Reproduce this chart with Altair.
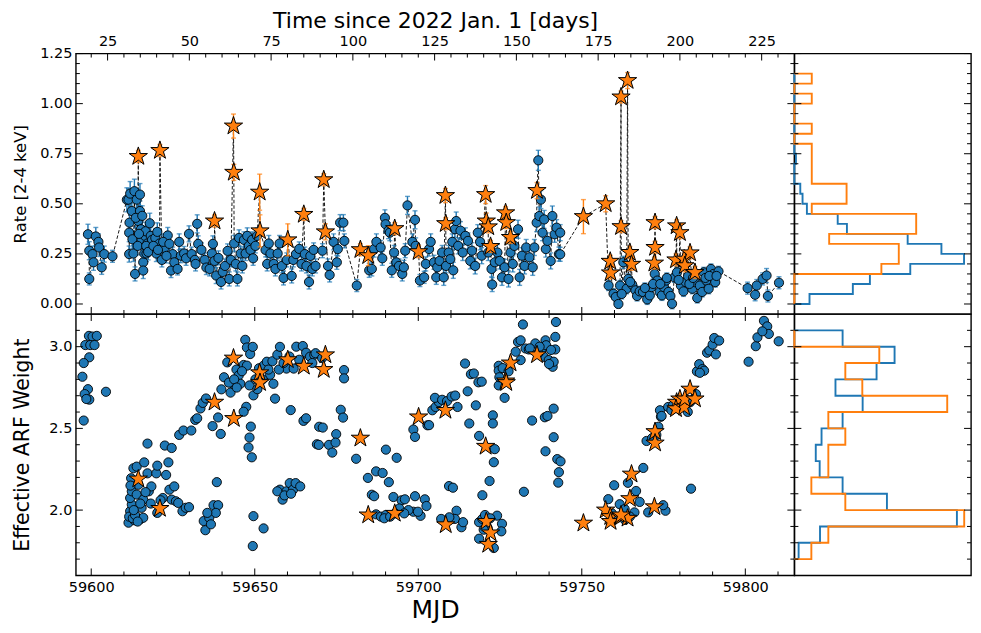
import altair as alt
import pandas as pd

BLUE = "#1f77b4"
ORANGE = "#ff7f0e"
FONT = "DejaVu Sans"
MJD_2022_JAN1 = 59580
STAR_PATH = ("M0,-1L0.225,-0.309L0.951,-0.309L0.363,0.118L0.588,0.809L0,0.382"
             "L-0.588,0.809L-0.363,0.118L-0.951,-0.309L-0.225,-0.309Z")

# ---------------- Top panel: blue observations [mjd, rate, err] ----------------
rate_seg_a = [
    [59599.0, 0.348, 0.050], [59599.4, 0.266, 0.045], [59599.4, 0.125, 0.030], [59600.4, 0.249, 0.040],
    [59600.7, 0.208, 0.040], [59601.4, 0.337, 0.045], [59602.2, 0.310, 0.040], [59602.4, 0.282, 0.045],
    [59603.2, 0.183, 0.035], [59604.0, 0.249, 0.040], [59606.5, 0.238, 0.030],
]
rate_seg_b = [
    [59610.9, 0.520, 0.060], [59611.4, 0.521, 0.055], [59611.9, 0.551, 0.060], [59612.4, 0.464, 0.050],
    [59611.7, 0.406, 0.050], [59611.6, 0.356, 0.045], [59611.6, 0.249, 0.040], [59612.6, 0.323, 0.045],
    [59612.9, 0.252, 0.040], [59613.4, 0.150, 0.035], [59613.2, 0.563, 0.060], [59613.9, 0.521, 0.055],
    [59614.4, 0.414, 0.050], [59614.9, 0.546, 0.055], [59614.9, 0.464, 0.050], [59615.2, 0.373, 0.045],
    [59615.4, 0.320, 0.045], [59615.9, 0.208, 0.040], [59615.9, 0.167, 0.040], [59616.2, 0.252, 0.040],
    [59616.4, 0.340, 0.045], [59616.6, 0.363, 0.045], [59616.9, 0.252, 0.040], [59617.2, 0.302, 0.045],
    [59617.9, 0.403, 0.050], [59618.2, 0.340, 0.045], [59618.6, 0.320, 0.040], [59619.6, 0.330, 0.045],
    [59619.9, 0.252, 0.040], [59620.9, 0.302, 0.040], [59621.6, 0.220, 0.035], [59622.4, 0.280, 0.040],
    [59623.4, 0.342, 0.040], [59624.4, 0.167, 0.035], [59624.9, 0.249, 0.035], [59625.4, 0.208, 0.035],
    [59626.4, 0.175, 0.030], [59626.9, 0.310, 0.040], [59627.4, 0.241, 0.035], [59628.4, 0.252, 0.035],
    [59629.0, 0.228, 0.035], [59629.9, 0.350, 0.040], [59613.6, 0.430, 0.050], [59614.2, 0.290, 0.045],
    [59614.6, 0.350, 0.045], [59615.6, 0.440, 0.050], [59616.8, 0.290, 0.040], [59617.4, 0.260, 0.040],
    [59619.0, 0.290, 0.040], [59620.2, 0.360, 0.045], [59620.4, 0.270, 0.040], [59622.0, 0.310, 0.040],
    [59623.0, 0.240, 0.035], [59623.9, 0.300, 0.040],
]
rate_seg_c = [
    [59630.7, 0.249, 0.035], [59631.7, 0.220, 0.035], [59631.9, 0.200, 0.035], [59632.4, 0.400, 0.045],
    [59632.7, 0.300, 0.040], [59633.7, 0.270, 0.035], [59634.7, 0.220, 0.035], [59635.2, 0.182, 0.035],
    [59636.2, 0.175, 0.035], [59636.9, 0.252, 0.035], [59637.2, 0.300, 0.040], [59637.7, 0.215, 0.035],
    [59638.2, 0.142, 0.040], [59638.9, 0.230, 0.035], [59639.7, 0.110, 0.035], [59640.2, 0.160, 0.035],
    [59640.9, 0.190, 0.035], [59641.7, 0.265, 0.035], [59642.2, 0.125, 0.035], [59642.7, 0.220, 0.035],
    [59643.7, 0.302, 0.040], [59644.2, 0.200, 0.035], [59644.7, 0.125, 0.035], [59645.2, 0.330, 0.040],
    [59645.7, 0.252, 0.035], [59646.2, 0.190, 0.035], [59646.7, 0.320, 0.040], [59647.2, 0.252, 0.035],
    [59647.7, 0.340, 0.040], [59648.2, 0.290, 0.035], [59648.7, 0.270, 0.035], [59649.2, 0.320, 0.040],
    [59649.5, 0.228, 0.035], [59650.2, 0.290, 0.035], [59650.7, 0.340, 0.040], [59653.3, 0.270, 0.035],
    [59653.8, 0.200, 0.035], [59654.3, 0.302, 0.040], [59654.8, 0.252, 0.035], [59655.8, 0.200, 0.035],
    [59656.3, 0.175, 0.035], [59657.0, 0.252, 0.035], [59657.6, 0.302, 0.040], [59658.3, 0.190, 0.035],
    [59658.8, 0.130, 0.035], [59659.8, 0.220, 0.035], [59661.3, 0.140, 0.035], [59661.8, 0.220, 0.035],
    [59662.6, 0.249, 0.035], [59663.6, 0.275, 0.035], [59664.3, 0.200, 0.035], [59665.3, 0.249, 0.035],
    [59665.8, 0.190, 0.035], [59666.6, 0.110, 0.035], [59667.0, 0.240, 0.035], [59667.6, 0.175, 0.035],
    [59668.0, 0.270, 0.035], [59668.6, 0.190, 0.035],
]
rate_seg_d = [
    [59670.7, 0.266, 0.035], [59672.4, 0.190, 0.035], [59672.9, 0.145, 0.035], [59674.1, 0.310, 0.040],
    [59675.1, 0.208, 0.035], [59675.4, 0.274, 0.035], [59676.1, 0.406, 0.040], [59677.1, 0.406, 0.040],
    [59677.4, 0.315, 0.035], [59681.2, 0.092, 0.030], [59685.0, 0.168, 0.035], [59685.8, 0.175, 0.035],
    [59686.5, 0.274, 0.040], [59687.2, 0.310, 0.040], [59688.5, 0.282, 0.035], [59689.0, 0.228, 0.035],
    [59689.8, 0.430, 0.040], [59690.0, 0.398, 0.040], [59690.9, 0.366, 0.040], [59691.3, 0.356, 0.040],
    [59691.9, 0.168, 0.035], [59692.6, 0.257, 0.035], [59693.3, 0.208, 0.035], [59694.1, 0.190, 0.035],
    [59695.1, 0.150, 0.035], [59695.6, 0.183, 0.035], [59696.0, 0.266, 0.035], [59696.7, 0.492, 0.045],
    [59698.2, 0.310, 0.040], [59699.0, 0.420, 0.045], [59699.2, 0.290, 0.040], [59700.5, 0.117, 0.030],
    [59701.8, 0.133, 0.030], [59702.3, 0.200, 0.035], [59703.3, 0.274, 0.035], [59703.8, 0.310, 0.040],
    [59704.8, 0.208, 0.035], [59705.5, 0.133, 0.035], [59705.8, 0.183, 0.035], [59706.5, 0.215, 0.035],
    [59707.3, 0.257, 0.035], [59707.8, 0.133, 0.040], [59708.5, 0.190, 0.035], [59709.3, 0.257, 0.035],
    [59709.8, 0.224, 0.035], [59710.4, 0.310, 0.040], [59710.7, 0.168, 0.040], [59711.2, 0.373, 0.040],
    [59711.6, 0.414, 0.045], [59712.2, 0.290, 0.040], [59712.9, 0.366, 0.045], [59713.6, 0.257, 0.040],
    [59714.4, 0.340, 0.040], [59715.2, 0.315, 0.040], [59715.9, 0.215, 0.040], [59716.4, 0.266, 0.040],
    [59717.4, 0.190, 0.040], [59718.2, 0.356, 0.040], [59718.9, 0.310, 0.040], [59719.4, 0.241, 0.040],
    [59721.4, 0.257, 0.040], [59722.4, 0.175, 0.040], [59722.6, 0.097, 0.035], [59723.4, 0.208, 0.040],
    [59724.2, 0.257, 0.040], [59724.9, 0.215, 0.040], [59725.6, 0.133, 0.040], [59726.4, 0.183, 0.040],
    [59727.6, 0.125, 0.040], [59728.2, 0.257, 0.040], [59728.9, 0.200, 0.040], [59729.4, 0.290, 0.040],
    [59730.5, 0.373, 0.045], [59731.0, 0.133, 0.040], [59731.7, 0.241, 0.040], [59732.5, 0.190, 0.040],
    [59733.0, 0.282, 0.040], [59734.0, 0.233, 0.040], [59735.0, 0.183, 0.040], [59735.5, 0.282, 0.040],
    [59736.2, 0.406, 0.045], [59736.7, 0.717, 0.050], [59737.0, 0.439, 0.045], [59737.5, 0.521, 0.045],
    [59738.0, 0.356, 0.040], [59738.5, 0.422, 0.045], [59739.0, 0.274, 0.040], [59739.5, 0.315, 0.040],
    [59740.5, 0.215, 0.040], [59741.0, 0.439, 0.050], [59741.7, 0.348, 0.040], [59742.3, 0.381, 0.040],
    [59743.0, 0.249, 0.035], [59743.4, 0.356, 0.040], [59743.4, 0.248, 0.035],
]
rate_seg_e = [
    [59758.2, 0.092, 0.025], [59759.7, 0.051, 0.025], [59760.4, 0.035, 0.025], [59761.2, 0.000, 0.020],
    [59761.7, 0.092, 0.025], [59762.7, 0.208, 0.030], [59763.7, 0.076, 0.025], [59764.2, 0.125, 0.025],
    [59765.4, 0.097, 0.025], [59766.4, 0.068, 0.025], [59766.9, 0.040, 0.025], [59767.7, 0.063, 0.025],
    [59768.7, 0.060, 0.025], [59770.0, 0.023, 0.025], [59770.8, 0.043, 0.025], [59771.3, 0.084, 0.025],
    [59772.3, 0.150, 0.025], [59773.1, 0.117, 0.025], [59773.8, 0.060, 0.025], [59774.5, 0.043, 0.025],
    [59775.1, 0.084, 0.025], [59775.8, 0.117, 0.025], [59776.5, 0.060, 0.025], [59777.1, 0.040, 0.025],
    [59777.6, 0.001, 0.025], [59778.3, 0.133, 0.025], [59779.1, 0.158, 0.025], [59780.3, 0.092, 0.025],
    [59781.1, 0.063, 0.025], [59781.8, 0.109, 0.025], [59782.5, 0.138, 0.025], [59783.8, 0.076, 0.025],
    [59784.5, 0.109, 0.025], [59785.3, 0.030, 0.025], [59786.1, 0.092, 0.025], [59786.8, 0.060, 0.025],
    [59787.3, 0.158, 0.025], [59788.1, 0.117, 0.025], [59788.8, 0.076, 0.025], [59789.5, 0.175, 0.025],
    [59790.3, 0.150, 0.025], [59790.8, 0.109, 0.025], [59791.8, 0.163, 0.025], [59762.2, 0.050, 0.025],
    [59764.8, 0.110, 0.025], [59769.3, 0.080, 0.025], [59771.8, 0.100, 0.025], [59774.0, 0.100, 0.025],
    [59776.0, 0.130, 0.025], [59779.6, 0.120, 0.025], [59782.9, 0.100, 0.025], [59784.0, 0.130, 0.025],
    [59787.8, 0.130, 0.025], [59789.0, 0.140, 0.025], [59791.2, 0.140, 0.025],
]
rate_seg_f = [
    [59800.7, 0.079, 0.030], [59803.0, 0.046, 0.030], [59803.5, 0.092, 0.030], [59805.3, 0.125, 0.030],
    [59806.5, 0.142, 0.035], [59806.9, 0.040, 0.030], [59810.3, 0.106, 0.030],
]

# ---------------- Bright-state observations (stars) ----------------
star_mjd = [59614.4, 59621.0, 59637.7, 59643.5, 59643.6, 59651.5, 59651.6, 59660.1, 59665.0, 59671.1,
            59671.6, 59682.3, 59684.7, 59692.8, 59700.1, 59708.3, 59708.4, 59720.6, 59720.8, 59721.4,
            59722.1, 59726.7, 59726.9, 59728.2, 59736.3, 59750.5, 59757.3, 59758.7, 59758.8, 59762.0,
            59764.0, 59762.0, 59764.7, 59765.2, 59772.4, 59772.4, 59772.2, 59779.0, 59780.0, 59778.8,
            59781.3, 59783.1, 59781.5, 59784.6]
star_rate = [0.736, 0.766, 0.414, 0.888, 0.657, 0.558, 0.365, 0.320, 0.447, 0.620,
             0.360, 0.271, 0.241, 0.376, 0.261, 0.541, 0.401, 0.546, 0.414, 0.385,
             0.287, 0.455, 0.406, 0.332, 0.566, 0.436, 0.500, 0.213, 0.155, 1.033,
             1.115, 0.386, 0.257, 0.198, 0.406, 0.282, 0.204, 0.390, 0.356, 0.220,
             0.224, 0.255, 0.191, 0.157]
star_err = [0.030, 0.030, 0.030, 0.060, 0.040, 0.090, 0.080, 0.080, 0.030, 0.030,
            0.040, 0.030, 0.050, 0.030, 0.030, 0.035, 0.030, 0.045, 0.040, 0.030,
            0.030, 0.030, 0.030, 0.030, 0.040, 0.085, 0.040, 0.030, 0.030, 0.030,
            0.040, 0.030, 0.030, 0.030, 0.030, 0.030, 0.030, 0.030, 0.030, 0.030,
            0.030, 0.030, 0.030, 0.030]
star_arf = [2.19, 2.01, 2.66, 2.93, 2.56, 2.84, 2.78, 2.92, 2.88, 2.86,
            2.95, 2.44, 1.97, 1.98, 2.57, 2.61, 1.91, 2.39, 1.93, 1.79,
            1.86, 2.79, 2.78, 2.90, 2.95, 1.92, 2.00, 1.96, 1.93, 1.96,
            1.95, 1.97, 2.07, 2.22, 2.48, 2.41, 2.02, 2.66, 2.68, 2.62,
            2.63, 2.74, 2.68, 2.68]

# ---------------- Bottom panel: blue observations [mjd, arf weight] ----------------
arf_seg_1 = [
    [59599.3, 3.066], [59600.4, 3.062], [59601.7, 3.066], [59598.2, 3.010], [59599.7, 3.010], [59601.0, 3.010],
    [59599.4, 2.935], [59597.7, 2.900], [59597.3, 2.816], [59599.0, 2.740], [59598.0, 2.710], [59599.4, 2.676],
    [59598.5, 2.680], [59597.7, 2.548], [59604.5, 2.724],
]
arf_seg_2 = [
    [59611.4, 1.923], [59611.9, 1.993], [59612.4, 2.034], [59611.9, 2.074], [59612.4, 2.115], [59612.2, 2.195],
    [59612.9, 2.256], [59613.9, 2.266], [59614.4, 2.155], [59613.9, 2.095], [59613.2, 1.938], [59614.9, 1.943],
    [59615.4, 2.014], [59615.9, 2.064], [59616.2, 2.292], [59615.9, 1.953], [59617.2, 2.225], [59617.6, 2.115],
    [59618.4, 2.145], [59619.9, 2.225], [59620.2, 2.272], [59620.2, 1.983], [59621.9, 2.074], [59622.9, 2.215],
    [59623.6, 2.292], [59623.9, 2.125], [59624.6, 2.064], [59625.4, 2.145], [59625.9, 2.054], [59626.6, 2.044],
    [59627.9, 1.993], [59628.9, 2.014], [59629.9, 2.018], [59611.6, 1.960], [59612.7, 1.950], [59613.4, 1.970],
    [59614.2, 1.930], [59613.0, 2.000], [59612.0, 2.150], [59615.0, 2.040], [59616.6, 2.110], [59618.2, 2.040],
    [59621.2, 2.060],
]
arf_seg_3 = [
    [59617.2, 2.407], [59622.5, 2.395], [59624.6, 2.380], [59626.9, 2.460], [59628.2, 2.487], [59630.6, 2.487],
    [59631.8, 2.552], [59632.4, 2.562], [59633.4, 2.622], [59634.1, 2.656], [59635.1, 2.683], [59637.1, 2.514],
    [59638.8, 2.567], [59639.6, 2.466], [59638.4, 2.171], [59639.8, 2.739], [59640.6, 2.813], [59641.6, 2.904],
    [59642.6, 2.719], [59643.4, 2.773], [59644.4, 2.860], [59645.1, 2.824], [59645.6, 2.773], [59646.6, 2.888],
    [59647.1, 3.042], [59647.6, 2.995], [59648.6, 2.955], [59649.4, 2.999], [59647.6, 2.884], [59648.4, 2.763],
    [59649.6, 2.702], [59647.4, 2.632], [59646.6, 2.602], [59648.8, 2.511], [59648.4, 2.444], [59648.1, 2.383],
    [59649.1, 2.323], [59651.3, 2.868], [59652.7, 2.884], [59653.7, 2.908], [59654.7, 2.828], [59655.7, 2.773],
    [59656.2, 2.682], [59655.4, 2.911], [59656.9, 2.951], [59657.7, 2.999], [59661.0, 2.612], [59659.7, 2.866],
    [59661.9, 2.866], [59664.9, 2.546], [59665.7, 2.562], [59662.7, 3.000], [59664.7, 3.004], [59665.7, 2.963],
    [59666.9, 2.939], [59668.2, 2.950], [59669.7, 2.510], [59669.0, 2.403], [59642.1, 2.780], [59643.7, 2.800],
    [59644.5, 2.750], [59646.1, 2.850], [59650.2, 2.800], [59650.8, 2.740], [59652.4, 2.800], [59654.2, 2.860],
    [59657.4, 2.860], [59658.8, 2.900], [59660.6, 2.940], [59663.6, 2.920], [59667.6, 2.900], [59668.6, 2.960],
    [59670.6, 2.930],
]
arf_seg_4 = [
    [59634.4, 1.933], [59634.9, 1.877], [59636.1, 1.953], [59636.6, 1.913], [59637.4, 2.030], [59638.8, 2.030],
    [59638.1, 1.983], [59635.5, 1.983], [59649.6, 1.963], [59652.7, 1.888], [59649.4, 1.780], [59657.7, 2.125],
    [59658.5, 2.064], [59659.7, 2.115], [59660.7, 2.165], [59661.7, 2.125], [59662.5, 2.165], [59663.9, 2.145],
    [59656.9, 2.115], [59659.1, 2.090], [59661.1, 2.100],
]
arf_seg_5 = [
    [59677.3, 2.857], [59677.3, 2.806], [59676.3, 2.614], [59677.0, 2.566], [59670.8, 2.505], [59669.6, 2.399],
    [59672.7, 2.399], [59673.7, 2.352], [59674.9, 2.465], [59674.7, 2.413], [59681.0, 2.314], [59684.6, 2.197],
    [59687.1, 2.237], [59689.1, 2.227], [59691.0, 2.171], [59690.1, 2.370], [59693.4, 2.320], [59685.8, 2.094],
    [59686.5, 2.085], [59692.4, 2.080], [59694.9, 2.060], [59695.9, 2.066], [59699.0, 2.085], [59702.0, 2.066],
    [59702.5, 2.025], [59700.7, 1.965], [59698.5, 1.990], [59697.0, 2.000], [59687.1, 1.974], [59688.6, 1.960],
    [59690.1, 1.970], [59694.2, 2.010], [59698.5, 2.493], [59699.0, 2.448], [59702.8, 2.519], [59689.6, 1.950],
    [59691.4, 1.960], [59692.9, 1.980], [59695.7, 1.980], [59699.9, 1.990],
]
arf_seg_6 = [
    [59703.3, 2.520], [59704.3, 2.611], [59705.3, 2.631], [59706.3, 2.661], [59705.1, 2.687], [59707.3, 2.675],
    [59708.8, 2.667], [59710.2, 2.695], [59711.3, 2.701], [59712.0, 2.631], [59715.1, 2.727], [59715.6, 2.530],
    [59714.3, 2.897], [59716.1, 2.832], [59717.0, 2.836], [59718.4, 2.782], [59719.4, 2.786], [59717.6, 2.641],
    [59718.6, 2.454], [59719.6, 2.091], [59721.8, 2.178], [59722.8, 2.580], [59722.8, 2.530], [59723.4, 2.373],
    [59723.1, 2.293], [59709.4, 2.147], [59710.6, 2.137], [59707.0, 1.946], [59711.7, 1.996], [59711.2, 1.946],
    [59713.2, 1.895], [59713.7, 1.926], [59709.5, 1.956], [59718.6, 1.926], [59718.6, 1.825], [59719.6, 1.946],
    [59723.1, 1.768], [59724.1, 1.966], [59725.6, 1.916], [59725.4, 1.870], [59724.6, 2.883], [59724.6, 2.853],
    [59725.8, 2.869], [59724.6, 2.763], [59724.8, 2.813], [59726.4, 2.687], [59727.6, 2.849], [59729.8, 2.969],
    [59730.5, 3.029], [59732.0, 3.136], [59731.3, 3.039], [59731.3, 2.918], [59732.8, 2.989], [59733.8, 2.983],
    [59735.8, 3.020], [59737.7, 2.983], [59738.9, 3.039], [59739.1, 3.009], [59738.4, 2.938], [59739.9, 2.918],
    [59741.1, 2.877], [59741.9, 3.060], [59742.1, 3.151], [59741.9, 2.983], [59741.4, 2.908], [59740.0, 2.894],
    [59734.8, 2.548], [59738.7, 2.568], [59739.5, 2.576], [59741.4, 2.621], [59741.4, 2.446], [59738.9, 2.360],
    [59742.5, 2.312], [59743.5, 2.298], [59743.0, 2.232], [59742.8, 2.168], [59732.3, 2.112], [59720.4, 1.970],
    [59721.2, 1.890], [59722.0, 1.950], [59720.0, 1.880], [59734.1, 2.990], [59736.7, 2.960], [59740.6, 2.980],
    [59737.1, 3.000],
]
arf_seg_7 = [
    [59758.1, 2.067], [59759.9, 2.152], [59761.6, 2.036], [59763.1, 2.006], [59764.1, 2.167], [59766.6, 2.117],
    [59766.1, 1.986], [59768.8, 2.258], [59770.3, 1.986], [59769.8, 2.423], [59773.4, 2.510], [59773.9, 2.611],
    [59774.2, 2.571], [59775.6, 1.996], [59774.9, 2.030], [59776.4, 2.631], [59777.9, 2.641], [59783.4, 2.131],
    [59785.2, 2.849], [59785.9, 2.893], [59786.9, 2.863], [59788.3, 2.963], [59789.0, 2.977], [59790.0, 3.013],
    [59790.5, 3.053], [59791.0, 2.953], [59792.0, 3.037], [59784.4, 2.682], [59782.4, 2.601], [59774.4, 2.576],
    [59777.4, 2.611], [59780.1, 2.675], [59784.9, 2.710], [59787.4, 2.853], [59759.2, 1.980], [59760.7, 1.950],
    [59763.2, 1.940], [59764.7, 1.960], [59767.7, 2.050], [59771.5, 2.440], [59772.8, 2.460], [59781.1, 2.650],
    [59783.1, 2.660], [59786.1, 2.840],
]
arf_seg_8 = [
    [59801.0, 2.908], [59803.2, 3.003], [59803.7, 3.057], [59805.7, 3.158], [59806.7, 3.124], [59807.2, 3.078],
    [59805.2, 3.094], [59810.2, 3.033],
]

# ---------------- Side histograms (step outlines, relative heights) ----------------
rate_bin_lo = [0.00, 0.05, 0.10, 0.15, 0.20, 0.25, 0.30, 0.35, 0.40, 0.45, 0.50, 0.55,
               0.60, 0.65, 0.70, 0.75, 0.80, 0.85, 0.90, 0.95, 1.00, 1.05, 1.10]
rate_hist_blue = [0.87, 3.36, 4.34, 6.66, 9.75, 8.45, 6.51, 3.02, 2.49, 0.72, 0.47, 0.34,
                  0.00, 0.00, 0.09, 0.00, 0.00, 0.00, 0.00, 0.00, 0.00, 0.00, 0.00]
rate_hist_orange = [0, 0, 0, 5, 6, 6, 2, 7, 7, 1, 3, 3,
                    1, 1, 1, 1, 0, 1, 0, 0, 1, 0, 1]
arf_bin_lo = [1.7, 1.8, 1.9, 2.0, 2.1, 2.2, 2.3, 2.4, 2.5, 2.6, 2.7, 2.8, 2.9, 3.0]
arf_hist_blue = [0.25, 1.51, 9.57, 5.45, 2.84, 1.49, 1.26, 1.60, 2.84, 4.02, 2.42, 4.84, 5.90, 2.84]
arf_hist_orange = [1, 2, 10, 3, 1, 2, 2, 3, 2, 9, 4, 3, 5, 0]

# ---------------- Axis ticks ----------------
mjd_major = [59600, 59650, 59700, 59750, 59800]
mjd_minor = [59610, 59620, 59630, 59640, 59660, 59670, 59680, 59690, 59710, 59720,
             59730, 59740, 59760, 59770, 59780, 59790, 59810]
day_major = [25, 50, 75, 100, 125, 150, 175, 200, 225]
day_minor = [d for d in range(20, 235, 5) if d % 25 != 0]
rate_major = [0.0, 0.25, 0.5, 0.75, 1.0, 1.25]
rate_minor = [round(0.05 * k, 2) for k in range(1, 25) if k % 5 != 0]
arf_major = [2.0, 2.5, 3.0]
arf_minor = [1.7, 1.8, 1.9, 2.1, 2.2, 2.3, 2.4, 2.6, 2.7, 2.8, 2.9, 3.1]

# ---------------- Layout ----------------
W_MAIN, W_HIST = 720, 177
H_TOP, H_BOT = 261, 262
T_MAJ, T_MIN = 7, 4
LABEL_SIZE = 14.5

x_scale = alt.Scale(domain=[59595.3, 59815.0], nice=False, zero=False)
rate_scale = alt.Scale(domain=[-0.05, 1.25], nice=False, zero=False)
arf_scale = alt.Scale(domain=[1.6, 3.2], nice=False, zero=False)
hist_top_scale = alt.Scale(domain=[0, 10.15], nice=False, zero=False)
hist_bot_scale = alt.Scale(domain=[0, 10.4], nice=False, zero=False)

rate_rows = rate_seg_a + rate_seg_b + rate_seg_c + rate_seg_d + rate_seg_e + rate_seg_f
blue_df = pd.DataFrame(rate_rows, columns=["mjd", "rate", "err"])
blue_df["lo"] = blue_df["rate"] - blue_df["err"]
blue_df["hi"] = blue_df["rate"] + blue_df["err"]

star_df = pd.DataFrame({"mjd": star_mjd, "rate": star_rate, "err": star_err, "arf": star_arf})
star_df["lo"] = star_df["rate"] - star_df["err"]
star_df["hi"] = star_df["rate"] + star_df["err"]

line_df = pd.concat([blue_df[["mjd", "rate"]], star_df[["mjd", "rate"]]]).sort_values("mjd").reset_index(drop=True)

arf_rows = arf_seg_1 + arf_seg_2 + arf_seg_3 + arf_seg_4 + arf_seg_5 + arf_seg_6 + arf_seg_7 + arf_seg_8
arf_df = pd.DataFrame(arf_rows, columns=["mjd", "arf"])

# ---------------- Axes (identical objects on every layer so they merge) ----------------
x_top_axis = alt.Axis(
    orient="top", values=[d + MJD_2022_JAN1 for d in day_major],
    labelExpr=f"datum.value - {MJD_2022_JAN1}", title="Time since 2022 Jan. 1 [days]",
    titleFontSize=22, ticks=False, domain=False, grid=False, labelPadding=5, titlePadding=1,
)
y_rate_axis = alt.Axis(
    orient="left", values=rate_major, format=".2f", title="Rate [2-4 keV]", titleFontSize=16.5,
    ticks=False, domain=False, grid=False, labelPadding=4, titlePadding=11,
)
x_mjd_axis = alt.Axis(
    orient="bottom", values=mjd_major, format="d", title="MJD", titleFontSize=25,
    ticks=False, domain=False, grid=False, labelPadding=5, titlePadding=4,
)
y_arf_axis = alt.Axis(
    orient="left", values=arf_major, format=".1f", title="Effective ARF Weight", titleFontSize=20.5,
    ticks=False, domain=False, grid=False, labelPadding=4, titlePadding=16,
)


def x_ticks(major, minor, height, xaxis, top=True, bottom=True):
    out = []
    for vals, ln in ((major, T_MAJ), (minor, T_MIN)):
        base = alt.Chart(pd.DataFrame({"t": vals})).mark_rule(color="black", strokeWidth=1)
        xe = alt.X("t:Q", scale=x_scale, axis=xaxis)
        if top:
            out.append(base.encode(x=xe, y=alt.value(0), y2=alt.value(ln)))
        if bottom:
            out.append(base.encode(x=xe, y=alt.value(height), y2=alt.value(height - ln)))
    return out


def y_ticks(major, minor, scale, width, yaxis):
    out = []
    for vals, ln in ((major, T_MAJ), (minor, T_MIN)):
        base = alt.Chart(pd.DataFrame({"t": vals})).mark_rule(color="black", strokeWidth=1)
        ye = alt.Y("t:Q", scale=scale, axis=yaxis)
        out.append(base.encode(y=ye, x=alt.value(0), x2=alt.value(ln)))
        out.append(base.encode(y=ye, x=alt.value(width), x2=alt.value(width - ln)))
    return out


def step_outline(lows, heights, width):
    hs, es = [0.0], [lows[0]]
    for lo, h in zip(lows, heights):
        hs += [h, h]
        es += [lo, round(lo + width, 3)]
    hs.append(0.0)
    es.append(round(lows[-1] + width, 3))
    return pd.DataFrame({"h": hs, "edge": es, "i": list(range(len(hs)))})


# ---------------- Top main panel ----------------
XT = alt.X("mjd:Q", scale=x_scale, axis=x_top_axis)


def yr(field):
    return alt.Y(field, scale=rate_scale, axis=y_rate_axis)


dash_line = alt.Chart(line_df).mark_line(color="black", strokeWidth=0.9, strokeDash=[3.5, 2]).encode(
    x=XT, y=yr("rate:Q"))
blue_bar = alt.Chart(blue_df).mark_rule(color=BLUE, strokeWidth=1.4).encode(x=XT, y=yr("lo:Q"), y2="hi:Q")
blue_cap_lo = alt.Chart(blue_df).mark_tick(color=BLUE, orient="horizontal", size=5, thickness=1.4).encode(
    x=XT, y=yr("lo:Q"))
blue_cap_hi = alt.Chart(blue_df).mark_tick(color=BLUE, orient="horizontal", size=5, thickness=1.4).encode(
    x=XT, y=yr("hi:Q"))
blue_pts = alt.Chart(blue_df).mark_circle(size=85, fill=BLUE, stroke="black", strokeWidth=0.9, opacity=1).encode(
    x=XT, y=yr("rate:Q"))
star_bar = alt.Chart(star_df).mark_rule(color=ORANGE, strokeWidth=1.4).encode(x=XT, y=yr("lo:Q"), y2="hi:Q")
star_cap_lo = alt.Chart(star_df).mark_tick(color=ORANGE, orient="horizontal", size=5, thickness=1.4).encode(
    x=XT, y=yr("lo:Q"))
star_cap_hi = alt.Chart(star_df).mark_tick(color=ORANGE, orient="horizontal", size=5, thickness=1.4).encode(
    x=XT, y=yr("hi:Q"))
star_pts_top = alt.Chart(star_df).mark_point(
    shape=STAR_PATH, filled=True, fill=ORANGE, stroke="black", strokeWidth=1, size=370, opacity=1
).encode(x=XT, y=yr("rate:Q"))

top_main = alt.layer(
    dash_line, blue_bar, blue_cap_lo, blue_cap_hi, blue_pts, star_bar, star_cap_lo, star_cap_hi, star_pts_top,
    *x_ticks([d + MJD_2022_JAN1 for d in day_major], [d + MJD_2022_JAN1 for d in day_minor], H_TOP,
             x_top_axis, top=True, bottom=False),
    *x_ticks(mjd_major, mjd_minor, H_TOP, x_top_axis, top=False, bottom=True),
    *y_ticks(rate_major, rate_minor, rate_scale, W_MAIN, y_rate_axis),
).properties(width=W_MAIN, height=H_TOP)

# ---------------- Top histogram ----------------
top_hist = alt.layer(
    alt.Chart(step_outline(rate_bin_lo, rate_hist_blue, 0.05)).mark_line(color=BLUE, strokeWidth=1.9).encode(
        x=alt.X("h:Q", scale=hist_top_scale, axis=None),
        y=alt.Y("edge:Q", scale=rate_scale, axis=None), order="i:Q"),
    alt.Chart(step_outline(rate_bin_lo, rate_hist_orange, 0.05)).mark_line(color=ORANGE, strokeWidth=1.9).encode(
        x=alt.X("h:Q", scale=hist_top_scale, axis=None),
        y=alt.Y("edge:Q", scale=rate_scale, axis=None), order="i:Q"),
    *y_ticks(rate_major, rate_minor, rate_scale, W_HIST, None),
).properties(width=W_HIST, height=H_TOP)

# ---------------- Bottom main panel ----------------
XB = alt.X("mjd:Q", scale=x_scale, axis=x_mjd_axis)
arf_pts = alt.Chart(arf_df).mark_circle(size=85, fill=BLUE, stroke="black", strokeWidth=0.9, opacity=1).encode(
    x=XB, y=alt.Y("arf:Q", scale=arf_scale, axis=y_arf_axis))
star_pts_bot = alt.Chart(star_df).mark_point(
    shape=STAR_PATH, filled=True, fill=ORANGE, stroke="black", strokeWidth=1, size=370, opacity=1
).encode(x=XB, y=alt.Y("arf:Q", scale=arf_scale, axis=y_arf_axis))
bot_main = alt.layer(
    arf_pts, star_pts_bot,
    *x_ticks(mjd_major, mjd_minor, H_BOT, x_mjd_axis, top=True, bottom=True),
    *y_ticks(arf_major, arf_minor, arf_scale, W_MAIN, y_arf_axis),
).properties(width=W_MAIN, height=H_BOT)

# ---------------- Bottom histogram ----------------
bot_hist = alt.layer(
    alt.Chart(step_outline(arf_bin_lo, arf_hist_blue, 0.1)).mark_line(color=BLUE, strokeWidth=1.9).encode(
        x=alt.X("h:Q", scale=hist_bot_scale, axis=None),
        y=alt.Y("edge:Q", scale=arf_scale, axis=None), order="i:Q"),
    alt.Chart(step_outline(arf_bin_lo, arf_hist_orange, 0.1)).mark_line(color=ORANGE, strokeWidth=1.9).encode(
        x=alt.X("h:Q", scale=hist_bot_scale, axis=None),
        y=alt.Y("edge:Q", scale=arf_scale, axis=None), order="i:Q"),
    *y_ticks(arf_major, arf_minor, arf_scale, W_HIST, None),
).properties(width=W_HIST, height=H_BOT)

chart = alt.concat(
    top_main, top_hist, bot_main, bot_hist, columns=2, spacing=0, bounds="flush"
).properties(
    padding={"left": 4, "top": 0, "right": 0, "bottom": 0}
).configure_concat(
    spacing=0
).configure_view(
    stroke="black", strokeWidth=1.4
).configure_axis(
    labelFont=FONT, titleFont=FONT, labelFontSize=LABEL_SIZE,
    titleFontWeight="normal", labelColor="black", titleColor="black",
)

chart.save("out.html", embed_options={"renderer": "svg", "actions": False})
